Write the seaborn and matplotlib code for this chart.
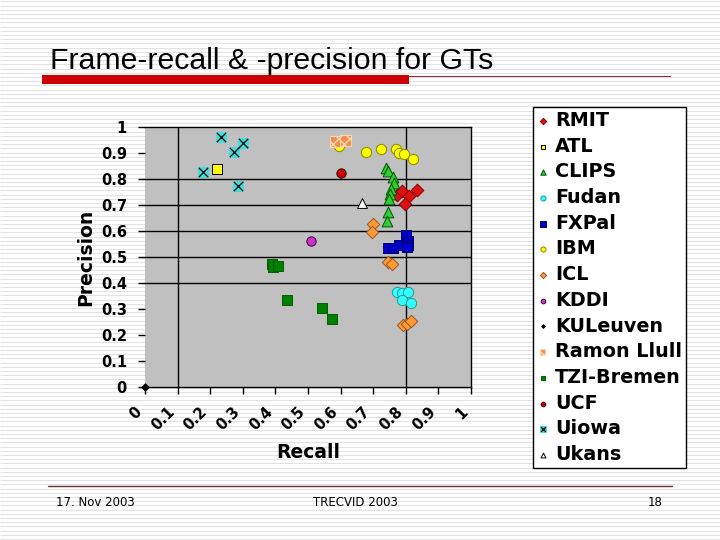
import matplotlib
matplotlib.use('Agg')
import matplotlib.pyplot as plt
import seaborn as sns
import pandas as pd
import numpy as np
from matplotlib.patches import Rectangle
from matplotlib.lines import Line2D

# --- data (recall, precision per run) ---
teams = ['RMIT', 'ATL', 'CLIPS', 'Fudan', 'FXPal', 'IBM', 'ICL', 'KDDI',
         'KULeuven', 'Ramon Llull', 'TZI-Bremen', 'UCF', 'Uiowa', 'Ukans']

rmit_recall = [0.772, 0.787, 0.810, 0.835, 0.799]
rmit_precision = [0.740, 0.755, 0.736, 0.759, 0.704]
atl_recall = [0.220]
atl_precision = [0.838]
clips_recall = [0.739, 0.746, 0.760, 0.764, 0.755, 0.752, 0.749, 0.746, 0.743]
clips_precision = [0.842, 0.833, 0.808, 0.785, 0.763, 0.743, 0.723, 0.675, 0.641]
fudan_recall = [0.772, 0.787, 0.808, 0.787, 0.815]
fudan_precision = [0.368, 0.364, 0.368, 0.336, 0.325]
fxpal_recall = [0.800, 0.746, 0.760, 0.779, 0.808, 0.808, 0.805]
fxpal_precision = [0.586, 0.537, 0.537, 0.546, 0.563, 0.547, 0.540]
ibm_recall = [0.596, 0.678, 0.723, 0.769, 0.780, 0.794, 0.823]
ibm_precision = [0.928, 0.906, 0.915, 0.915, 0.900, 0.896, 0.877]
icl_recall = [0.698, 0.696, 0.746, 0.757, 0.792, 0.803, 0.816]
icl_precision = [0.628, 0.596, 0.483, 0.474, 0.240, 0.243, 0.255]
kddi_recall = [0.508]
kddi_precision = [0.563]
kuleuven_recall = [0.0]
kuleuven_precision = [0.0]
ramon_recall = [0.583, 0.614]
ramon_precision = [0.944, 0.950]
tzi_recall = [0.389, 0.394, 0.409, 0.435, 0.542, 0.575]
tzi_precision = [0.474, 0.463, 0.468, 0.336, 0.306, 0.263]
ucf_recall = [0.601]
ucf_precision = [0.823]
uiowa_recall = [0.234, 0.300, 0.273, 0.179, 0.284]
uiowa_precision = [0.962, 0.938, 0.905, 0.827, 0.775]
ukans_recall = [0.665]
ukans_precision = [0.708]

tick_values = [0, 0.1, 0.2, 0.3, 0.4, 0.5, 0.6, 0.7, 0.8, 0.9, 1]
tick_labels = ['0', '0.1', '0.2', '0.3', '0.4', '0.5', '0.6', '0.7', '0.8', '0.9', '1']

recalls = [rmit_recall, atl_recall, clips_recall, fudan_recall, fxpal_recall,
           ibm_recall, icl_recall, kddi_recall, kuleuven_recall, ramon_recall,
           tzi_recall, ucf_recall, uiowa_recall, ukans_recall]
precisions = [rmit_precision, atl_precision, clips_precision, fudan_precision,
              fxpal_precision, ibm_precision, icl_precision, kddi_precision,
              kuleuven_precision, ramon_precision, tzi_precision, ucf_precision,
              uiowa_precision, ukans_precision]

rows = []
for team, rec, prec in zip(teams, recalls, precisions):
    for r, p in zip(rec, prec):
        rows.append({'team': team, 'recall': r, 'precision': p})
df = pd.DataFrame(rows)

# marker, face, edge, size
styles = {
    'RMIT':        ('D', '#dd1111', '#880000', 42),
    'ATL':         ('s', '#ffff00', '#000000', 45),
    'CLIPS':       ('^', '#33cc33', '#005500', 60),
    'Fudan':       ('o', '#33ffff', '#229999', 55),
    'FXPal':       ('s', '#0000cc', '#000066', 60),
    'IBM':         ('o', '#ffff00', '#888800', 55),
    'ICL':         ('D', '#ff9933', '#995522', 40),
    'KDDI':        ('o', '#cc33cc', '#330033', 45),
    'KULeuven':    ('D', '#000000', '#000000', 14),
    'Ramon Llull': ('s', '#f09050', '#ffd8b0', 60),
    'TZI-Bremen':  ('s', '#008000', '#006000', 50),
    'UCF':         ('o', '#cc0000', '#330000', 45),
    'Uiowa':       ('s', '#44dddd', '#44dddd', 55),
    'Ukans':       ('^', '#ffffff', '#000000', 50),
}

sns.set_theme(style='white')
plt.rcParams['font.family'] = ['DejaVu Sans']
plt.rcParams['text.color'] = 'black'
plt.rcParams['axes.labelcolor'] = 'black'
plt.rcParams['xtick.color'] = 'black'
plt.rcParams['ytick.color'] = 'black'

fig = plt.figure(figsize=(7.2, 5.4), dpi=100)
W, H = 720.0, 540.0

# striped slide background
bg = fig.add_axes([0, 0, 1, 1], zorder=-10)
bg.set_xlim(0, 1)
bg.set_ylim(0, H)
bg.hlines(np.arange(1, H, 4.2), 0, 1, color='#e2e2e2', lw=0.8)
bg.axis('off')

ax = fig.add_axes([145 / W, 1 - 387.3 / H, 326 / W, 260 / H], zorder=2)
ax.set_facecolor('#c0c0c0')

handles = {}
for team in teams:
    sub = df[df['team'] == team]
    m, fc, ec, s = styles[team]
    sns.scatterplot(data=sub, x='recall', y='precision', marker=m, color=fc,
                    edgecolor=ec, linewidth=0.7, s=s, ax=ax, zorder=3,
                    clip_on=False, legend=False)
    coll = ax.collections[-1]
    if team == 'Ramon Llull':
        coll.set_hatch('xxx')
    if team == 'Uiowa':
        sns.scatterplot(data=sub, x='recall', y='precision', marker='x',
                        color='#000000', s=45, linewidth=0.9, ax=ax,
                        zorder=4, legend=False)
        handles[team] = (coll, ax.collections[-1])
    else:
        handles[team] = coll

# odd grid lines as on the slide
for gx in [0.1, 0.8]:
    ax.axvline(gx, color='black', lw=1, zorder=1)
for gy in [0.4, 0.5, 0.6, 0.7, 0.8]:
    ax.axhline(gy, color='black', lw=1, zorder=1)

ax.set_xlim(0, 1)
ax.set_ylim(0, 1)
ax.set_xticks(tick_values)
ax.set_xticklabels(tick_labels, rotation=45, ha='right', va='top',
                   fontsize=10.5, fontweight='bold')
ax.set_yticks(tick_values)
ax.set_yticklabels(tick_labels, fontsize=10.5, fontweight='bold')
ax.tick_params(axis='both', direction='out', length=5, width=1,
               color='black', bottom=True, left=True)
ax.tick_params(axis='y', pad=8)
ax.tick_params(axis='x', pad=7)
ax.spines['left'].set_visible(False)
for side in ['top', 'right', 'bottom']:
    ax.spines[side].set_color('black')
    ax.spines[side].set_linewidth(1)
ax.set_xlabel('Recall', fontsize=13.5, fontweight='bold', labelpad=7)
ax.set_ylabel('Precision', fontsize=13.5, fontweight='bold', labelpad=4)

leg = fig.legend([handles[t] for t in teams], teams, loc='upper left',
                 bbox_to_anchor=(533 / W, 1 - 107 / H), frameon=True,
                 fancybox=False, edgecolor='black', facecolor='white',
                 framealpha=1, prop={'weight': 'bold', 'size': 13.8},
                 labelspacing=0.35, handlelength=0.6, handletextpad=0.35,
                 borderpad=0.2, markerscale=0.5, borderaxespad=0)
leg.get_frame().set_linewidth(1)

# title with red bar
fig.text(50 / W, 1 - 69 / H, 'Frame-recall & -precision for GTs',
         fontsize=21.8, family='Liberation Sans', va='baseline', ha='left')
fig.add_artist(Rectangle((42 / W, 1 - 84 / H), 367 / W, 9 / H,
                         transform=fig.transFigure, color='#cc0000', lw=0))
fig.add_artist(Line2D([409 / W, 670 / W], [1 - 76 / H, 1 - 76 / H],
                      transform=fig.transFigure, color='#993333', lw=0.8))

# footer
fig.add_artist(Line2D([48 / W, 672 / W], [1 - 486 / H, 1 - 486 / H],
                      transform=fig.transFigure, color='#663333', lw=1))
fig.text(56 / W, 1 - 502 / H, '17. Nov 2003', fontsize=8.5, va='center', ha='left')
fig.text(355 / W, 1 - 502 / H, 'TRECVID 2003', fontsize=8.5, va='center', ha='center')
fig.text(663 / W, 1 - 502 / H, '18', fontsize=8.5, va='center', ha='right')

fig.savefig('out.png', dpi=100, facecolor='white')
